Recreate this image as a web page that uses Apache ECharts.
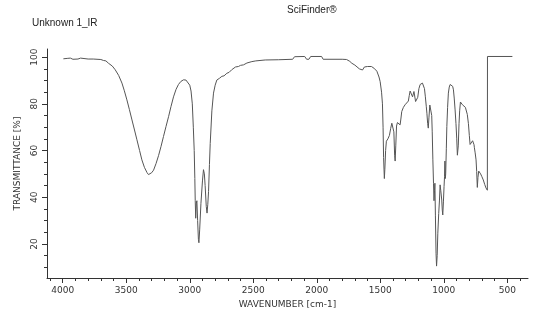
<!DOCTYPE html>
<html>
<head>
<meta charset="utf-8">
<script src="https://cdn.jsdelivr.net/npm/echarts@6/dist/echarts.min.js"></script>
<style>
  html, body { margin: 0; padding: 0; background: #fff; }
  #chart { width: 560px; height: 329px; }
</style>
</head>
<body>
<div id="chart"></div>
<script>
// IR spectrum: wavenumber (cm-1) and transmittance (%)
const wavenumbers = [
  3995, 3960, 3950, 3940, 3920, 3880, 3860, 3845, 3800, 3760, 3700, 3680, 3660, 3640, 3610, 3587,
  3560, 3534, 3515, 3495, 3475, 3455, 3435, 3416, 3395, 3377, 3357, 3337, 3325, 3312, 3300, 3285,
  3265, 3246, 3226, 3207, 3187, 3167, 3148, 3128, 3108, 3089, 3070, 3049, 3030, 3015, 3000, 2990,
  2980, 2972, 2965, 2960, 2957, 2953, 2948, 2944, 2938, 2932, 2928, 2922, 2912, 2900, 2892, 2885,
  2879, 2870, 2864, 2858, 2852, 2845, 2839, 2826, 2813, 2800, 2787, 2765, 2747, 2730, 2708, 2690,
  2670, 2656, 2640, 2617, 2600, 2577, 2550, 2511, 2480, 2406, 2300, 2190, 2175, 2095, 2080, 2062,
  2048, 1962, 1950, 1800, 1765, 1740, 1724, 1700, 1685, 1665, 1650, 1640, 1625, 1600, 1570, 1550,
  1527, 1510, 1501, 1490, 1483, 1478, 1474, 1468, 1464, 1458, 1452, 1440, 1428, 1418, 1409, 1400,
  1393, 1387, 1383, 1378, 1372, 1365, 1357, 1350, 1344, 1338, 1331, 1318, 1305, 1291, 1279, 1272,
  1265, 1258, 1252, 1246, 1240, 1235, 1229, 1222, 1218, 1212, 1205, 1196, 1186, 1177, 1168, 1160,
  1152, 1145, 1138, 1133, 1127, 1122, 1117, 1110, 1104, 1099, 1095, 1091, 1086, 1081, 1077, 1073,
  1070, 1066, 1061, 1057, 1052, 1047, 1040, 1034, 1029, 1024, 1016, 1012, 1008, 1003, 998, 994,
  991, 988, 985, 980, 976, 970, 964, 957, 950, 943, 937, 930, 924, 918, 911, 904,
  898, 893, 890, 886, 880, 875, 869, 862, 853, 846, 838, 830, 824, 815, 806, 799,
  793, 786, 780, 773, 767, 762, 759, 753, 746, 741, 736, 731, 725, 718, 710, 700,
  689, 678, 668, 657, 656, 460
]
const transmittance = [
  99.3, 99.5, 99.0, 99.6, 99.1, 99.2, 99.6, 99.1, 99.2, 99.2, 99.0, 98.6, 98.4, 97.4, 96.2, 94.6,
  92.2, 88.9, 85.6, 81.7, 77.5, 73.1, 68.8, 64.6, 60.0, 56.0, 52.8, 50.6, 49.7, 49.9, 50.5, 51.6,
  54.5, 57.8, 61.8, 66.0, 70.3, 74.5, 78.8, 83.0, 86.2, 88.3, 89.6, 90.3, 90.2, 89.6, 88.0, 85.5,
  80.0, 70.0, 60.0, 48.0, 38.5, 31.0, 37.5, 38.5, 30.0, 22.0, 20.5, 26.0, 37.4, 47.0, 51.8, 50.0,
  45.0, 36.0, 33.2, 37.0, 42.5, 54.0, 63.0, 77.0, 84.6, 88.0, 90.2, 91.0, 91.8, 92.0, 93.1, 93.5,
  94.6, 94.7, 95.8, 96.0, 96.5, 96.7, 97.5, 98.1, 98.4, 98.8, 98.9, 99.1, 100.2, 100.3, 99.1, 99.1,
  100.3, 100.3, 99.1, 99.1, 99.0, 98.2, 97.4, 96.6, 96.0, 95.0, 94.2, 94.5, 95.8, 96.0, 96.0, 95.3,
  94.0, 91.5, 89.5, 85.0, 80.0, 70.0, 57.0, 48.0, 52.0, 60.0, 64.0, 65.0, 66.5, 69.5, 71.7, 72.4,
  68.0, 58.0, 55.5, 62.0, 70.5, 72.0, 72.4, 72.0, 71.0, 73.5, 76.7, 78.5, 79.6, 80.3, 81.2, 83.5,
  85.5, 86.2, 85.8, 83.0, 83.5, 85.3, 84.5, 81.0, 80.3, 81.5, 82.8, 86.5, 88.3, 88.8, 88.9, 88.4,
  86.5, 83.0, 79.0, 76.0, 71.5, 69.6, 74.0, 79.5, 80.3, 79.5, 75.0, 68.0, 56.0, 46.0, 38.5, 43.0,
  46.0, 32.0, 16.0, 10.5, 15.0, 24.6, 33.0, 38.8, 45.3, 43.0, 38.8, 34.5, 32.4, 38.0, 44.5, 49.0,
  55.5, 48.0, 50.0, 61.0, 70.3, 78.5, 84.6, 87.2, 88.3, 88.5, 88.2, 87.5, 86.0, 82.5, 77.4, 71.5,
  65.0, 58.0, 57.2, 62.0, 71.7, 77.0, 80.8, 80.5, 79.6, 79.0, 78.8, 78.5, 77.8, 75.5, 71.5, 66.5,
  62.6, 62.8, 63.0, 64.2, 64.6, 62.5, 61.2, 59.0, 56.0, 51.0, 44.2, 48.5, 51.2, 51.0, 50.0, 48.8,
  47.4, 45.5, 44.0, 43.0, 100.3, 100.3
]

// tick marks and labels
const xLabelTicks = [4000, 3500, 3000, 2500, 2000, 1500, 1000, 500]
const xMinorTicks = [4100, 3900, 3800, 3700, 3600, 3400, 3300, 3200, 3100, 2900, 2800, 2700, 2600,
  2400, 2300, 2200, 2100, 1900, 1800, 1700, 1600, 1400, 1300, 1200, 1100, 900, 800, 700, 600, 400]
const yLabelTicks = [20, 40, 60, 80, 100]
const yMinorTicks = [10, 15, 25, 30, 35, 45, 50, 55, 65, 70, 75, 85, 90, 95]

const points = wavenumbers.map((w, i) => [w, transmittance[i]])

const textColor = "#333"
const axisColor = "#333"
const labelFont = "DejaVu Sans"

const chart = echarts.init(document.getElementById("chart"))

const option = {
  animation: false,
  title: [
    {
      text: "SciFinder®",
      left: 282,
      top: 0,
      textStyle: { fontFamily: "Liberation Sans", fontSize: 10, fontWeight: "normal", color: "#222" },
    },
    {
      text: "Unknown 1_IR",
      left: 27,
      top: 13,
      textStyle: { fontFamily: "Liberation Sans", fontSize: 10, fontWeight: "normal", color: "#222" },
    },
  ],
  grid: { left: 47, right: 32, top: 49, bottom: 51, containLabel: false },
  xAxis: [
    {
      type: "value",
      inverse: true,
      min: 337,
      max: 4124,
      position: "bottom",
      name: "WAVENUMBER [cm-1]",
      nameLocation: "middle",
      nameGap: 21,
      nameTextStyle: { fontFamily: labelFont, fontSize: 9, color: textColor },
      axisLine: { lineStyle: { color: axisColor, width: 1 } },
      axisTick: { customValues: xLabelTicks, length: 5, lineStyle: { color: axisColor } },
      axisLabel: {
        customValues: xLabelTicks,
        margin: 8,
        fontFamily: labelFont,
        fontSize: 9,
        color: textColor,
        formatter: (v) => String(v),
      },
      splitLine: { show: false },
    },
    {
      type: "value",
      inverse: true,
      min: 337,
      max: 4124,
      position: "bottom",
      offset: 0,
      axisLine: { show: false },
      axisTick: { customValues: xMinorTicks, length: 3, lineStyle: { color: axisColor } },
      axisLabel: { show: false },
      splitLine: { show: false },
    },
  ],
  yAxis: [
    {
      type: "value",
      min: 5.4,
      max: 103.5,
      position: "left",
      name: "TRANSMITTANCE [%]",
      nameLocation: "middle",
      nameRotate: 90,
      nameGap: 22,
      nameTextStyle: { fontFamily: labelFont, fontSize: 9, color: textColor },
      axisLine: { show: true, lineStyle: { color: axisColor, width: 1 } },
      axisTick: { show: true, customValues: yLabelTicks, length: 5, lineStyle: { color: axisColor } },
      axisLabel: { customValues: yLabelTicks, rotate: 90, margin: 8, fontFamily: labelFont, fontSize: 9, color: textColor },
      splitLine: { show: false },
    },
    {
      type: "value",
      min: 5.4,
      max: 103.5,
      position: "left",
      offset: 0,
      axisLine: { show: false },
      axisTick: { show: true, customValues: yMinorTicks, length: 3, lineStyle: { color: axisColor } },
      axisLabel: { show: false },
      splitLine: { show: false },
    },
  ],
  series: [
    {
      type: "line",
      data: points,
      xAxisIndex: 0,
      yAxisIndex: 0,
      showSymbol: false,
      lineStyle: { color: "#555", width: 1 },
    },
  ],
}

chart.setOption(option)
</script>
</body>
</html>
